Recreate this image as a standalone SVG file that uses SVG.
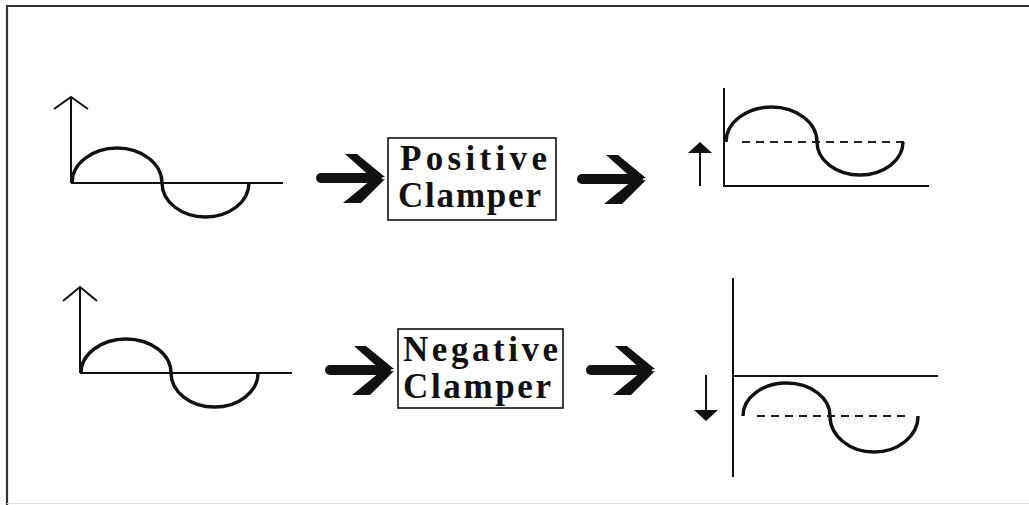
<svg xmlns="http://www.w3.org/2000/svg" xmlns:xlink="http://www.w3.org/1999/xlink" width="1029" height="505" viewBox="0 0 1029 505">
<style>
.ax{fill:none;stroke:#111;stroke-width:2}
.wave{fill:none;stroke:#111;stroke-width:3.4}
.dash{fill:none;stroke:#222;stroke-width:2;stroke-dasharray:8 6}
.box{fill:#fff;stroke:#111;stroke-width:1.6}
.lbl{font-family:'Liberation Serif','DejaVu Serif',serif;font-weight:bold;font-size:35px;fill:#111}
.frame{fill:none;stroke:#333;stroke-width:2.2}
</style>
<defs>
<g id="bold-arrow" fill="#111">
<line x1="-62" y1="0" x2="-6" y2="0" stroke="#111" stroke-width="10" stroke-linecap="round"/>
<polygon points="-38,-24 -26,-24 2,-1 -10,1"/>
<polygon points="2,1 -22,25 -40,25 -12,2"/>
</g>
</defs>
<rect x="0" y="0" width="1029" height="505" fill="#fff"/>
<path class="frame" d="M7,505 L7,6 L1029,6"/>
<line x1="7" y1="503.5" x2="1029" y2="503.5" stroke="#ddd" stroke-width="1"/>

<g id="input-top">
<path class="ax" d="M71,183 L71,98 M54,109 L71,97 L88,109 M71,183 L283,183"/>
<path class="wave" d="M72,183 A45,35 0 0 1 162,183 A43.5,34 0 0 0 249,183"/>
</g>

<g id="positive-clamper">
<rect class="box" x="388" y="138" width="168" height="82"/>
<text class="lbl" x="400" y="170" textLength="147" lengthAdjust="spacing">Positive</text>
<text class="lbl" x="398" y="207" textLength="143" lengthAdjust="spacing">Clamper</text>
</g>

<g id="output-top">
<path class="ax" d="M724,88 L724,186 L929,186"/>
<line class="ax" x1="700" y1="186" x2="700" y2="148"/>
<polygon points="688,153 700,142 712,153" fill="#111"/>
<path class="dash" d="M742,142 L910,142"/>
<path class="wave" d="M726,142 A45.5,35 0 0 1 817,142 A43,33 0 0 0 903,142"/>
</g>

<g id="input-bottom">
<path class="ax" d="M80,373 L80,288 M63,301 L80,287 L97,301 M80,373 L292,373"/>
<path class="wave" d="M81,373 A45,34 0 0 1 171,373 A43.5,34 0 0 0 258,373"/>
</g>

<g id="negative-clamper">
<rect class="box" x="398" y="329" width="165" height="79"/>
<text class="lbl" x="403" y="361" textLength="155" lengthAdjust="spacing">Negative</text>
<text class="lbl" x="403" y="398" textLength="148" lengthAdjust="spacing">Clamper</text>
</g>

<g id="output-bottom">
<path class="ax" d="M733,278 L733,477 M733,376 L938,376"/>
<line class="ax" x1="706" y1="375" x2="706" y2="414"/>
<polygon points="694,410 706,421 718,410" fill="#111"/>
<path class="dash" d="M757,416 L910,416"/>
<path class="wave" d="M743,416 A43.5,33 0 0 1 830,416 A44,36 0 0 0 918,416"/>
</g>

<g id="connectors">
<use xlink:href="#bold-arrow" transform="translate(383,178)"/>
<use xlink:href="#bold-arrow" transform="translate(644,179)"/>
<use xlink:href="#bold-arrow" transform="translate(392,370)"/>
<use xlink:href="#bold-arrow" transform="translate(653,370)"/>
</g>
</svg>
